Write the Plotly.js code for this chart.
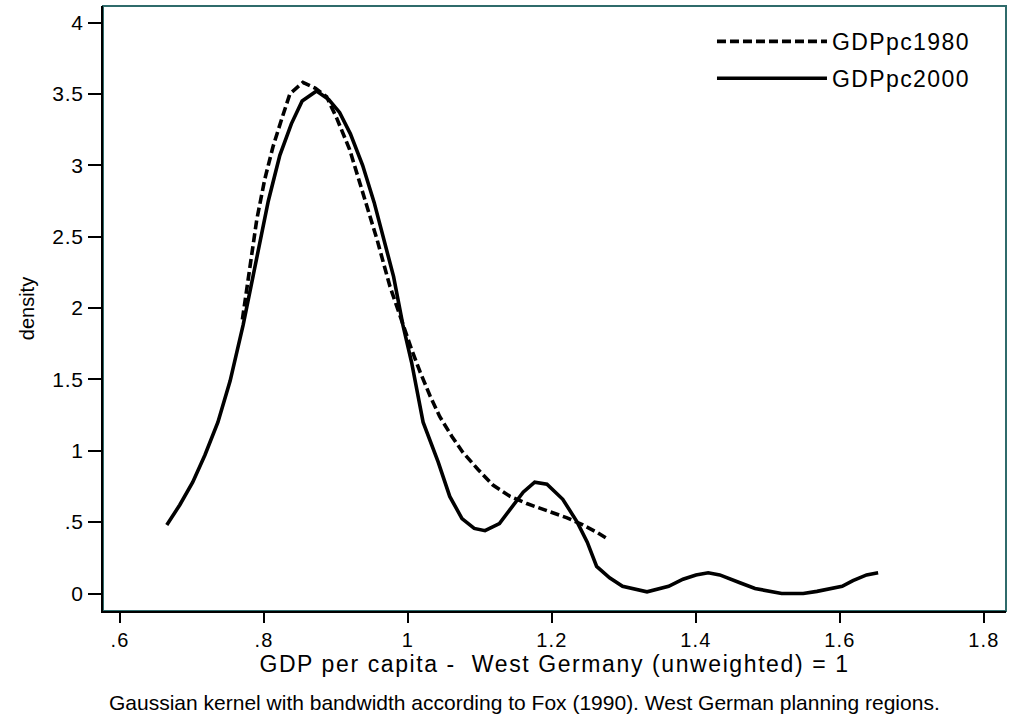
<!DOCTYPE html>
<html><head><meta charset="utf-8">
<script src="https://cdn.plot.ly/plotly-3.0.1.min.js"></script>
<style>
html,body{margin:0;padding:0;background:#fff;}
#chart{width:1009px;height:719px;}
.xtitle{letter-spacing:1.6px;}
.legendtext{letter-spacing:1.4px;}
.xtick text{letter-spacing:1.2px;}
.ytick text{letter-spacing:0.8px;}
</style>
</head><body><div id="chart"></div>
<script>
// GDPpc1980 kernel density (dashed)
const x1980 = [0.770,0.781,0.790,0.801,0.8125,0.825,0.836,0.854,0.871,0.887,0.901,0.919,0.9375,0.957,0.975,0.993,1.005,1.017,1.031,1.044,1.061,1.076,1.097,1.118,1.142,1.165,1.193,1.221,1.243,1.262,1.278];
const y1980 = [1.92,2.32,2.62,2.90,3.13,3.33,3.50,3.58,3.54,3.48,3.33,3.11,2.81,2.48,2.15,1.88,1.71,1.55,1.38,1.24,1.10,0.99,0.87,0.76,0.68,0.63,0.58,0.53,0.48,0.43,0.38];
// GDPpc2000 kernel density (solid)
const x2000 = [0.665,0.683,0.701,0.718,0.736,0.753,0.771,0.788,0.806,0.822,0.838,0.853,0.873,0.890,0.905,0.920,0.937,0.953,0.966,0.980,0.993,1.005,1.021,1.042,1.058,1.075,1.092,1.107,1.127,1.142,1.160,1.176,1.193,1.215,1.235,1.249,1.262,1.280,1.298,1.332,1.362,1.382,1.400,1.417,1.433,1.461,1.482,1.519,1.549,1.568,1.603,1.618,1.637,1.653];
const y2000 = [0.48,0.62,0.78,0.97,1.20,1.49,1.88,2.30,2.75,3.07,3.29,3.45,3.52,3.46,3.37,3.22,3.00,2.74,2.50,2.22,1.88,1.62,1.20,0.92,0.68,0.525,0.456,0.44,0.49,0.59,0.71,0.78,0.765,0.66,0.50,0.36,0.19,0.11,0.05,0.012,0.05,0.10,0.13,0.145,0.13,0.075,0.035,0.0,0.0,0.015,0.05,0.09,0.13,0.145];
const seriesNames = ['GDPpc1980','GDPpc2000'];
const xTickVals = [0.6,0.8,1,1.2,1.4,1.6,1.8];
const xTickText = ['.6','.8','1','1.2','1.4','1.6','1.8'];
const yTickVals = [0,0.5,1,1.5,2,2.5,3,3.5,4];
const yTickText = ['0','.5','1','1.5','2','2.5','3','3.5','4'];
const xTitle = 'GDP per capita -  West Germany (unweighted) = 1';
const yTitle = 'density';
const note = 'Gaussian kernel with bandwidth according to Fox (1990). West German planning regions.';

const FONT = 'Liberation Sans, Arial, Helvetica, sans-serif';
const traces = [
  {x:x1980, y:y1980, name:seriesNames[0], legendgroup:'g1', type:'scatter', mode:'lines',
   line:{color:'#000', width:3.6, dash:'9px,4px'}},
  {x:x2000, y:y2000, name:seriesNames[1], legendgroup:'g2', type:'scatter', mode:'lines',
   line:{color:'#000', width:3.6}}
];
const layout = {
  width:1009, height:719,
  margin:{l:103, r:3, t:6, b:108},
  paper_bgcolor:'#fff', plot_bgcolor:'#fff',
  font:{family:FONT, color:'#000'},
  showlegend:true,
  legend:{x:0.6744, y:0.977, xanchor:'left', yanchor:'top', bgcolor:'rgba(0,0,0,0)',
    font:{size:23, family:FONT, color:'#000'}, itemwidth:110, tracegroupgap:4, traceorder:'grouped'},
  xaxis:{range:[0.5764,1.8306], tickvals:xTickVals, ticktext:xTickText,
    showline:true, linecolor:'#000', linewidth:2, ticks:'outside', ticklen:10, tickwidth:2, tickcolor:'#000',
    showgrid:false, zeroline:false, tickfont:{size:20, family:FONT},
    title:{text:xTitle, font:{size:23, family:FONT}, standoff:2}},
  yaxis:{range:[-0.1226,4.1156], tickvals:yTickVals, ticktext:yTickText,
    showline:true, linecolor:'#000', linewidth:2, ticks:'outside', ticklen:13, tickwidth:2, tickcolor:'#000',
    showgrid:false, zeroline:false, tickfont:{size:21, family:FONT},
    title:{text:yTitle, font:{size:20, family:FONT}, standoff:12}},
  shapes:[{type:'rect', xref:'paper', yref:'paper', x0:0, x1:1, y0:0, y1:1,
    line:{color:'#2f6b6b', width:2}, layer:'below'}],
  annotations:[{text:note, xref:'paper', yref:'paper', x:0.467, y:-0.151,
    xanchor:'center', yanchor:'middle', showarrow:false, font:{size:21, family:FONT, color:'#000'}}]
};
Plotly.newPlot('chart', traces, layout, {displayModeBar:false, staticPlot:true});
</script>
</body></html>
